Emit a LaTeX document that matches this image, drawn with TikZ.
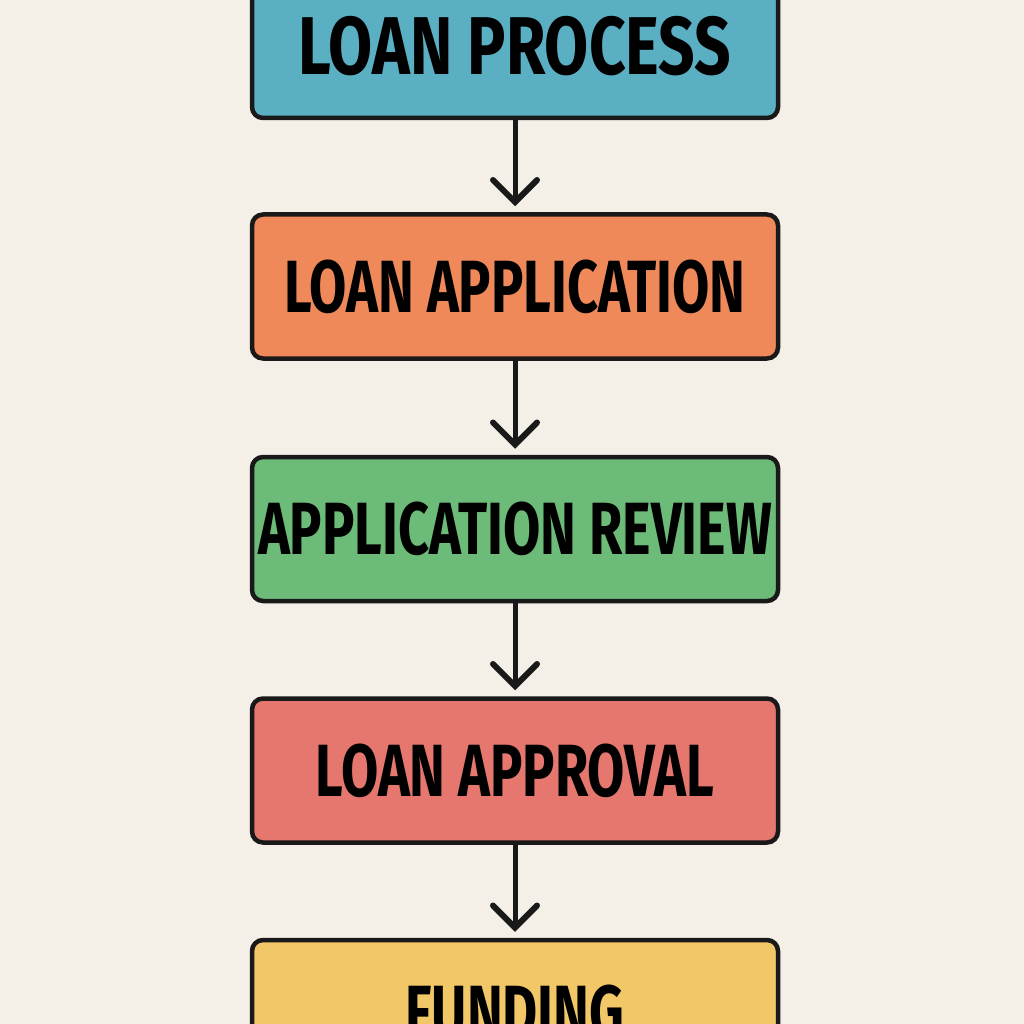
\documentclass[tikz,border=0pt]{standalone}
\usepackage{fontspec}
\newfontfamily\titlefont[FakeStretch=0.78]{Fira Sans}
\newfontfamily\stepfont[FakeStretch=0.73]{Fira Sans}
\usetikzlibrary{positioning, arrows.meta}

\definecolor{paper}{HTML}{F4EFE7}
\definecolor{cblue}{HTML}{5BAFC3}
\definecolor{corange}{HTML}{EF8959}
\definecolor{cgreen}{HTML}{6CBB78}
\definecolor{cred}{HTML}{E6776F}
\definecolor{cyellow}{HTML}{F1C767}

\begin{document}
\begin{tikzpicture}[
    x=1pt, y=-1pt,
    >={Straight Barb[length=22pt, width=44pt, line width=6pt, line cap=round]},
    line width=4.5pt,
    stepbox/.style={draw=black!90, rounded corners=11pt, minimum width=526pt, minimum height=144pt, font=\stepfont\bfseries\fontsize{74}{74}\selectfont, inner sep=0pt},
    link/.style={->, draw=black!90, line width=5pt, shorten >=6pt}
]

    % Page
    \fill[paper] (0,0) rectangle (1024,1024);
    \useasboundingbox (0,0) rectangle (1024,1024);

    % Steps
    \node[stepbox, fill=cblue, font=\titlefont\bfseries\fontsize{82}{82}\selectfont] (process) at (515,46) {LOAN PROCESS};
    \node[stepbox, fill=corange, below=92pt of process] (application) {LOAN APPLICATION};
    \node[stepbox, fill=cgreen, below=94pt of application] (review) {APPLICATION REVIEW};
    \node[stepbox, fill=cred, below=93pt of review] (approval) {LOAN APPROVAL};
    \node[stepbox, fill=cyellow, below=93pt of approval] (funding) {FUNDING};

    % Arrows
    \foreach \a/\b in {process/application, application/review, review/approval, approval/funding} {
        \draw[link] (\a.south) -- (\b.north);
    }

\end{tikzpicture}
\end{document}
